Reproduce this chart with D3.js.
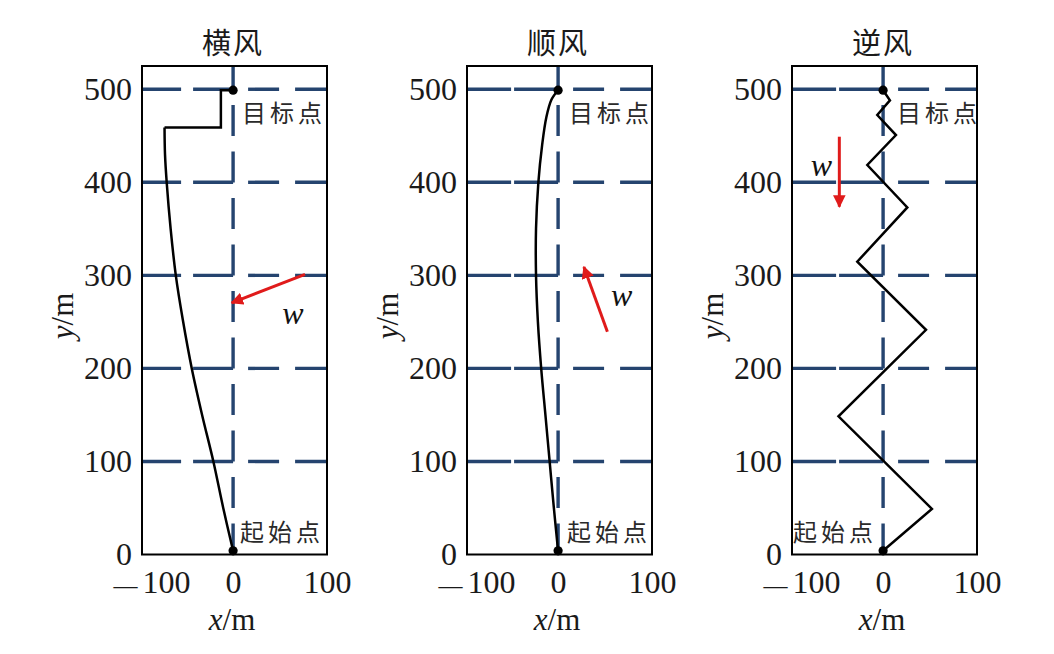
<!DOCTYPE html>
<html>
<head>
<meta charset="utf-8">
<script src="https://cdn.jsdelivr.net/npm/d3@7"></script>
<style>
  body { margin: 0; background: #fff; }
  svg { display: block; }
</style>
</head>
<body>
<svg id="chart" width="1054" height="654"></svg>
<script>
// ---------------- data ----------------
const panelTitles = ["横风", "顺风", "逆风"];
const yTicks = [0, 100, 200, 300, 400, 500];
const xTicks = [-100, 0, 100];
const gridYValues = [100, 200, 300, 400, 500];
const targetLabel = "目标点";
const startLabel = "起始点";
const windLabel = "w";

// crosswind trajectory (smooth part, then step to target)
const crossCurve = [[0, 4], [-10.5, 50], [-21, 100], [-33, 150], [-44, 200], [-53.5, 252],
                    [-61, 300], [-66.5, 350], [-70.7, 400], [-72.5, 430], [-73, 459]];
const crossStep = [[-73, 459], [-13, 459], [-13, 499], [0, 499]];
// tailwind trajectory
const tailCurve = [[0, 4], [-4.5, 50], [-9, 100], [-13.5, 150], [-18, 200], [-21.5, 250],
                   [-23.5, 300], [-23.5, 350], [-21, 400], [-17, 440], [-12.5, 470], [-7, 489], [0, 499]];
// headwind trajectory
const headZigzag = [[0, 4], [52, 49], [-47.5, 148.5], [45.7, 241.5], [-27.5, 314.7], [25.8, 373],
                    [-16.8, 418.6], [13.7, 450.8], [-6.2, 472.3], [7.3, 488], [0, 499]];

const startPoint = [0, 4];
const targetPoint = [0, 499];

// wind arrows: [from, to]
const windArrows = [
  [[76.6, 301], [-1.5, 270.5]],
  [[52.5, 239.4], [27.5, 309]],
  [[-46.6, 449], [-46.6, 373.8]]
];
const windLabelAt = [[63.8, 255], [67.6, 274.6], [-65.6, 414.3]];

// ---------------- layout ----------------
const svg = d3.select("#chart");
const frameLefts = [142, 467, 792];
const frameW = 185, frameTop = 66, frameBottom = 554.5;
const xDomain = [-97, 100], yDomain = [0, 525];
const gridColor = "#25446f";
const serif = "'Liberation Serif', 'Times New Roman', serif";
const cjk = "'Noto Sans CJK SC', 'Noto Sans CJK JP', sans-serif";

const y = d3.scaleLinear().domain(yDomain).range([frameBottom, frameTop]);

const panels = [
  { title: panelTitles[0], lines: [{ pts: crossCurve, curve: d3.curveCatmullRom }, { pts: crossStep, curve: d3.curveLinear }],
    leftDash: "40,12", tgtDx: 9, startDx: 7 },
  { title: panelTitles[1], lines: [{ pts: tailCurve, curve: d3.curveCatmullRom }],
    leftDash: "44,3", tgtDx: 11, startDx: 9 },
  { title: panelTitles[2], lines: [{ pts: headZigzag, curve: d3.curveLinear }],
    leftDash: "44,3", tgtDx: 14, startDx: -90 }
];

const defs = svg.append("defs");
defs.append("marker")
  .attr("id", "arrowhead")
  .attr("viewBox", "0 0 10 10")
  .attr("refX", 9).attr("refY", 5)
  .attr("markerWidth", 4.2).attr("markerHeight", 4.2)
  .attr("markerUnits", "strokeWidth")
  .attr("orient", "auto")
  .append("path")
  .attr("d", "M0,0 L10,5 L0,10 Z")
  .attr("fill", "#e01b1b");

panels.forEach((p, i) => {
  const left = frameLefts[i];
  const x = d3.scaleLinear().domain(xDomain).range([left, left + frameW]);
  const g = svg.append("g");

  // grid: horizontal lines (left half and right half)
  gridYValues.forEach(v => {
    g.append("line")
      .attr("x1", x(0)).attr("x2", x(xDomain[0]))
      .attr("y1", y(v)).attr("y2", y(v))
      .attr("stroke", gridColor).attr("stroke-width", 3.4)
      .attr("stroke-dasharray", p.leftDash);
    g.append("line")
      .attr("x1", x(0)).attr("x2", x(xDomain[1]))
      .attr("y1", y(v)).attr("y2", y(v))
      .attr("stroke", gridColor).attr("stroke-width", 3.4)
      .attr("stroke-dasharray", "31,16").attr("stroke-dashoffset", 32);
  });
  // grid: vertical line at x = 0
  g.append("line")
    .attr("x1", x(0)).attr("x2", x(0))
    .attr("y1", y(yDomain[0])).attr("y2", y(yDomain[1]))
    .attr("stroke", gridColor).attr("stroke-width", 3.4)
    .attr("stroke-dasharray", "31,15.5");

  // frame
  g.append("rect")
    .attr("x", left).attr("y", frameTop)
    .attr("width", frameW).attr("height", frameBottom - frameTop)
    .attr("fill", "none").attr("stroke", "#000").attr("stroke-width", 2);

  // trajectory
  p.lines.forEach(l => {
    g.append("path")
      .datum(l.pts)
      .attr("d", d3.line().x(d => x(d[0])).y(d => y(d[1])).curve(l.curve))
      .attr("fill", "none").attr("stroke", "#000").attr("stroke-width", 2.5)
      .attr("stroke-linejoin", "miter");
  });

  // start & target points
  [startPoint, targetPoint].forEach(pt => {
    g.append("circle").attr("cx", x(pt[0])).attr("cy", y(pt[1])).attr("r", 4.6).attr("fill", "#000");
  });

  // wind arrow
  const a = windArrows[i];
  g.append("line")
    .attr("x1", x(a[0][0])).attr("y1", y(a[0][1]))
    .attr("x2", x(a[1][0])).attr("y2", y(a[1][1]))
    .attr("stroke", "#e01b1b").attr("stroke-width", 3)
    .attr("marker-end", "url(#arrowhead)");
  g.append("text")
    .attr("x", x(windLabelAt[i][0])).attr("y", y(windLabelAt[i][1]) + 7)
    .attr("text-anchor", "middle")
    .attr("font-family", serif).attr("font-style", "italic").attr("font-size", 32)
    .attr("fill", "#111")
    .text(windLabel);

  // annotations
  g.append("text")
    .attr("x", x(0) + p.tgtDx).attr("y", y(500) + 33)
    .attr("font-family", cjk).attr("font-size", 24).attr("letter-spacing", 4)
    .attr("fill", "#2a2a2a")
    .text(targetLabel);
  g.append("text")
    .attr("x", x(0) + p.startDx).attr("y", frameBottom - 14)
    .attr("font-family", cjk).attr("font-size", 24).attr("letter-spacing", 4)
    .attr("fill", "#2a2a2a")
    .text(startLabel);

  // title
  g.append("text")
    .attr("x", x(0)).attr("y", 54)
    .attr("text-anchor", "middle")
    .attr("font-family", cjk).attr("font-size", 29).attr("letter-spacing", 2)
    .attr("fill", "#1a1a1a")
    .text(p.title);

  // y axis
  const yAxis = g.append("g")
    .attr("transform", `translate(${left},0)`)
    .call(d3.axisLeft(y).tickValues(yTicks).tickSize(0).tickPadding(10).tickFormat(d3.format("d")));
  yAxis.select(".domain").remove();
  yAxis.selectAll("text")
    .attr("font-family", serif).attr("font-size", 32).attr("fill", "#1a1a1a");

  // x axis
  const xAxis = g.append("g")
    .attr("transform", `translate(0,${frameBottom})`)
    .call(d3.axisBottom(x).tickValues(xTicks).tickSize(0).tickPadding(16).tickFormat(d => d < 0 ? "" : d3.format("d")(d)));
  xAxis.select(".domain").remove();
  xAxis.selectAll("text")
    .attr("font-family", serif).attr("font-size", 32).attr("fill", "#1a1a1a");
  xAxis.selectAll(".tick").filter(d => d < 0).select("text")
    .attr("text-anchor", "start")
    .attr("x", left - 29 - x(-100))
    .call(t => {
      t.append("tspan").attr("font-size", 24).text("—");
      t.append("tspan").attr("dx", 5).text(d3.format("d")(Math.abs(-100)));
    });

  // axis titles
  const xt = g.append("text")
    .attr("x", x(0) - 1).attr("y", 630)
    .attr("text-anchor", "middle")
    .attr("font-family", serif).attr("font-size", 31).attr("fill", "#1a1a1a");
  xt.append("tspan").attr("font-style", "italic").text("x");
  xt.append("tspan").text("/m");

  const yt = g.append("text")
    .attr("transform", `translate(${left - 79 + 10},316) rotate(-90)`)
    .attr("text-anchor", "middle")
    .attr("font-family", serif).attr("font-size", 31).attr("fill", "#1a1a1a");
  yt.append("tspan").attr("font-style", "italic").text("y");
  yt.append("tspan").text("/m");
});
</script>
</body>
</html>
